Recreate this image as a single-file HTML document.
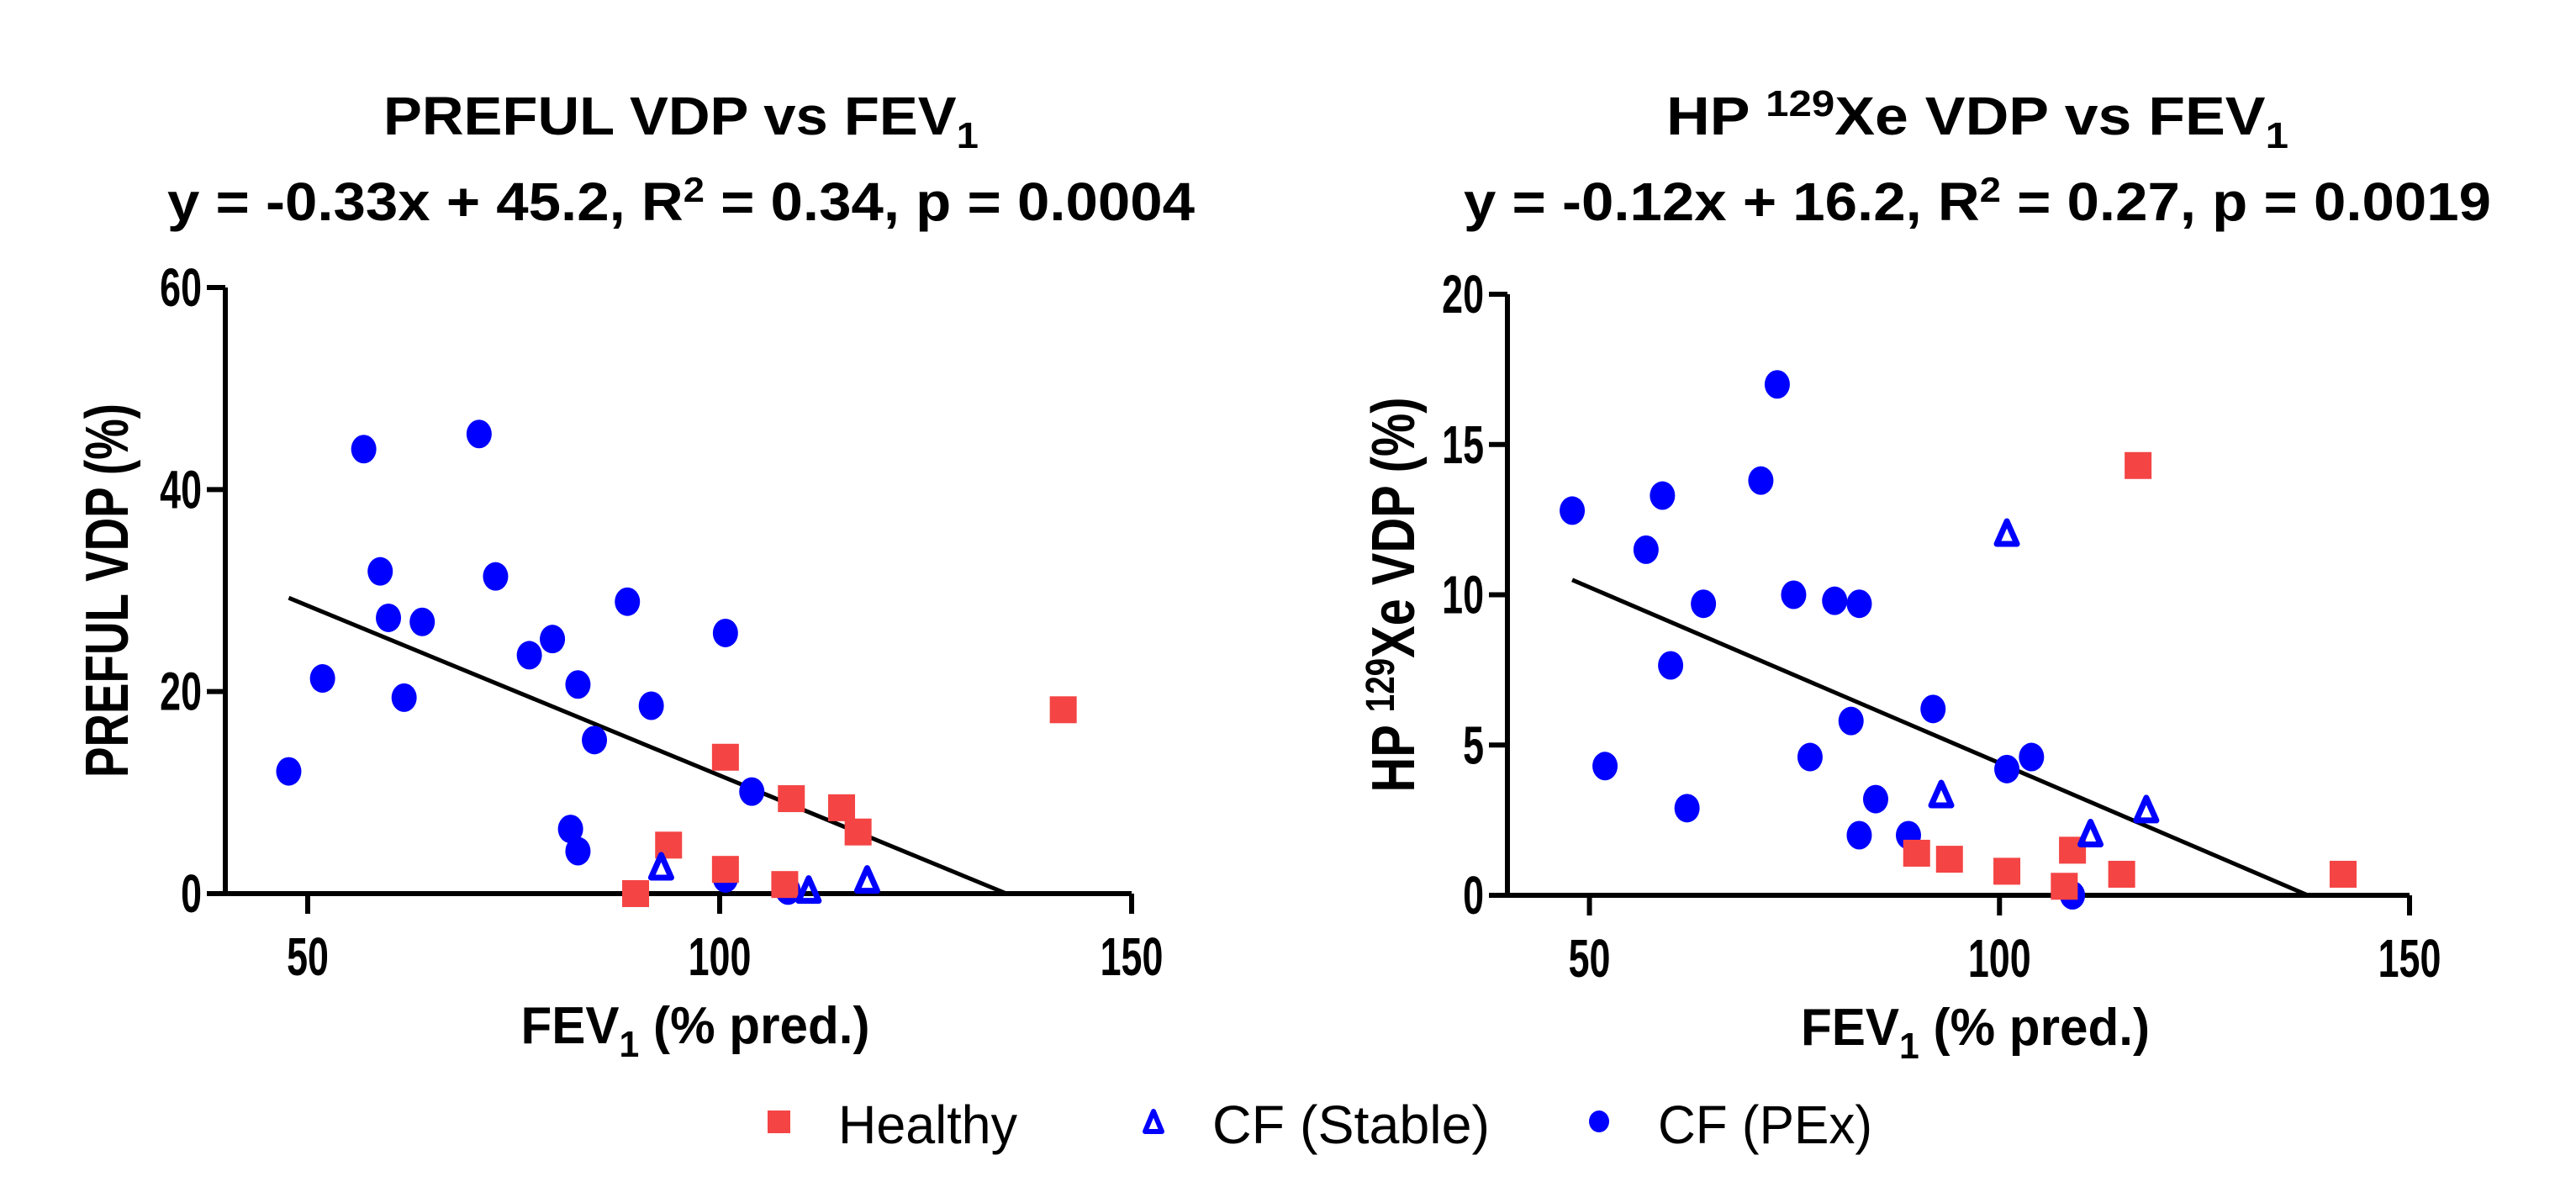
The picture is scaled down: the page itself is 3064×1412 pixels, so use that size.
<!DOCTYPE html>
<html><head><meta charset="utf-8"><style>
html,body{margin:0;padding:0;background:#fff;}
svg{display:block;font-family:"Liberation Sans",sans-serif;}
</style></head><body>
<svg id="chart" width="3064" height="1412" viewBox="0 0 3064 1412">
<g id="left"></g>
<g id="right"></g>
<g id="legend"></g>
</svg>
<script>
// PREFUL panel data
const prefulPExX = [47.7,51.8,56.8,58.8,59.8,61.7,63.9,70.8,72.8,76.9,79.7,82.8,81.9,82.8,84.8,88.8,91.7,100.7,103.9,100.7,108.3];
const prefulPExY = [12.1,21.3,44.0,31.9,27.3,19.4,26.9,45.5,31.4,23.6,25.2,20.7,6.4,4.2,15.2,28.9,18.6,25.8,10.1,1.5,0.3];
const prefulStableX = [92.9,110.8,117.9];
const prefulStableY = [2.5,0.2,1.2];
const prefulHealthyX = [89.8,93.8,100.7,100.7,107.9,108.7,114.8,116.8,141.7];
const prefulHealthyY = [0,4.8,13.5,2.4,0.9,9.4,8.5,6.1,18.2];
const prefulFit = [-0.336,45.3];
const prefulYTicks = [0,20,40,60];
// Xe panel data
const xePExX = [47.9,51.9,56.9,58.9,59.9,61.9,63.9,70.9,72.9,74.9,76.9,79.9,81.9,82.9,82.9,84.9,88.9,91.9,100.9,103.9,108.9];
const xePExY = [12.8,4.3,11.5,13.3,7.65,2.9,9.7,13.8,17.0,10.0,4.6,9.8,5.8,9.7,2.0,3.2,2.0,6.2,4.2,4.6,0.0];
const xeStableX = [92.9,100.9,111.1,117.9];
const xeStableY = [3.3,12.0,2.0,2.8];
const xeHealthyX = [89.9,93.9,100.9,107.9,108.9,114.9,116.9,141.9];
const xeHealthyY = [1.4,1.2,0.8,0.3,1.5,0.7,14.3,0.7];
const xeFit = [-0.117,16.1];
const xeYTicks = [0,5,10,15,20];
const xTicks = [50,100,150];

const NS="http://www.w3.org/2000/svg";
function mk(parent,tag,attrs){const e=document.createElementNS(NS,tag);for(const k in attrs)e.setAttribute(k,attrs[k]);parent.appendChild(e);return e;}

function panel(g,o){
  const sx=v=>o.x0+(v-40)/(150-40)*(o.x1-o.x0);
  const sy=v=>o.y0-(v/o.ymax)*(o.y0-o.y1);
  let t=mk(g,'text',{x:o.cx,y:160,'text-anchor':'middle','font-size':64,'font-weight':'bold',textLength:o.t1len,lengthAdjust:'spacingAndGlyphs'});
  
  
  t.innerHTML=o.title;
  let t2=mk(g,'text',{x:o.cx,y:262,'text-anchor':'middle','font-size':64,'font-weight':'bold',textLength:o.t2len,lengthAdjust:'spacingAndGlyphs'});
  
  
  t2.innerHTML=o.eq;
  const ax=mk(g,'path',{d:`M${o.x0},${o.y1} V${o.y0} H${o.x1}`,stroke:'#000','stroke-width':6,fill:'none'});
  
  
  o.yticks.forEach(v=>{
    mk(g,'line',{x1:o.x0-22,x2:o.x0,y1:sy(v),y2:sy(v),stroke:'#000','stroke-width':6});
    const l=mk(g,'text',{x:0,y:0,'text-anchor':'end','font-size':56,'font-weight':'bold',transform:`translate(${o.x0-28},${sy(v)+22}) scale(0.8,1.15)`});
    
    
    l.textContent=v;
  });
  xTicks.forEach(v=>{
    mk(g,'line',{x1:sx(v),x2:sx(v),y1:o.y0,y2:o.y0+24,stroke:'#000','stroke-width':6});
    const l=mk(g,'text',{x:0,y:0,'text-anchor':'middle','font-size':56,'font-weight':'bold',transform:`translate(${sx(v)},${o.y0+97}) scale(0.8,1.15)`});
    
    
    l.textContent=v;
  });
  const xt=mk(g,'text',{x:(o.x0+o.x1)/2+20,y:o.y0+178,'text-anchor':'middle','font-size':62,'font-weight':'bold',textLength:415,lengthAdjust:'spacingAndGlyphs'});
  
  
  xt.innerHTML='FEV<tspan font-size="44" dy="16">1</tspan><tspan dy="-16"> (% pred.)</tspan>';
  const yt=mk(g,'text',{x:0,y:0,'text-anchor':'middle','font-size':72,'font-weight':'bold',transform:`translate(${o.ytx},${(o.y0+o.y1)/2}) rotate(-90)`,textLength:o.ytlen,lengthAdjust:'spacingAndGlyphs'});
  
  
  yt.innerHTML=o.ytitle;
  const xs=Math.min(...o.pex[0]), xe=-o.fit[1]/o.fit[0];
  const fl=mk(g,'line',{x1:sx(xs),y1:sy(o.fit[0]*xs+o.fit[1]),x2:sx(xe),y2:sy(0),stroke:'#000','stroke-width':5});
  
  
  o.pex[0].forEach((x,i)=>{const c=mk(g,'ellipse',{cx:sx(x),cy:sy(o.pex[1][i]),rx:15,ry:17,fill:'#0000ff'});
    
    });
  o.healthy[0].forEach((x,i)=>{const X=sx(x),Y=sy(o.healthy[1][i]);const r=mk(g,'rect',{x:X-16,y:Y-16,width:32,height:32,fill:'#f44444'});
    
    });
  o.stable[0].forEach((x,i)=>{const X=sx(x),Y=sy(o.stable[1][i]);const p=mk(g,'polygon',{points:`${X},${Y-16} ${X+12},${Y+11} ${X-12},${Y+11}`,fill:'none',stroke:'#0000ff','stroke-width':7,'stroke-linejoin':'round'});
    
    });
}

panel(document.getElementById('left'),{x0:268,x1:1346,y0:1063,y1:342,ymax:60,cx:810,t1len:708,t2len:1222,
  title:'PREFUL VDP vs FEV<tspan font-size="44" dy="16">1</tspan>',
  eq:'y = -0.33x + 45.2, R<tspan font-size="42" dy="-22">2</tspan><tspan dy="22"> = 0.34, p = 0.0004</tspan>',
  yticks:prefulYTicks,ytx:152,ytlen:445,ytitle:'PREFUL VDP (%)',
  pex:[prefulPExX,prefulPExY],stable:[prefulStableX,prefulStableY],healthy:[prefulHealthyX,prefulHealthyY],fit:prefulFit});
panel(document.getElementById('right'),{x0:1793,x1:2866,y0:1065,y1:350,ymax:20,cx:2352,t1len:740,t2len:1222,
  title:'HP <tspan font-size="44" dy="-22">129</tspan><tspan dy="22">Xe VDP vs FEV</tspan><tspan font-size="44" dy="16">1</tspan>',
  eq:'y = -0.12x + 16.2, R<tspan font-size="42" dy="-22">2</tspan><tspan dy="22"> = 0.27, p = 0.0019</tspan>',
  yticks:xeYTicks,ytx:1682,ytlen:470,ytitle:'HP <tspan font-size="48" dy="-24">129</tspan><tspan dy="24">Xe VDP (%)</tspan>',
  pex:[xePExX,xePExY],stable:[xeStableX,xeStableY],healthy:[xeHealthyX,xeHealthyY],fit:xeFit});

const lg=document.getElementById('legend');
const ls=mk(lg,'rect',{x:913,y:1321,width:27,height:27,fill:'#f44444'});


const lt=mk(lg,'polygon',{points:'1372,1322 1382,1346 1362,1346',fill:'none',stroke:'#0000ff','stroke-width':6,'stroke-linejoin':'round'});


const lc=mk(lg,'ellipse',{cx:1902,cy:1334,rx:12,ry:13,fill:'#0000ff'});


[['Healthy',997,213],['CF (Stable)',1442,330],['CF (PEx)',1972,255]].forEach(d=>{
  const t=mk(lg,'text',{x:d[1],y:1360,'font-size':64,textLength:d[2],lengthAdjust:'spacingAndGlyphs'});
  
  
  t.textContent=d[0];
});
</script>
</body></html>
